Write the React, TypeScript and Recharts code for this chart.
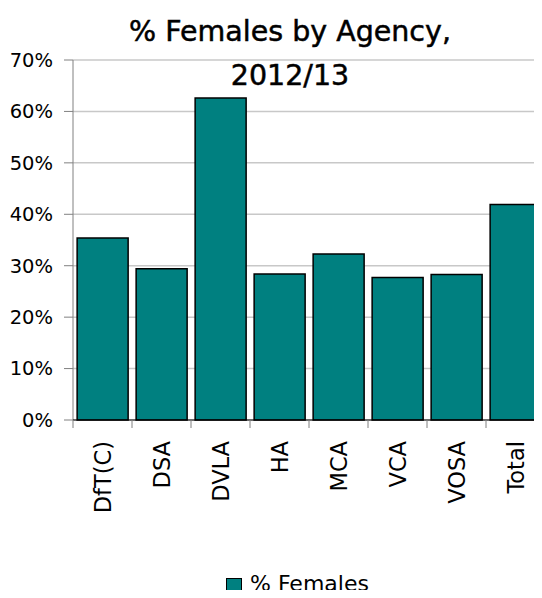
import { Bar, BarChart, CartesianGrid, XAxis, YAxis } from 'recharts'

const agencies = ['DfT(C)', 'DSA', 'DVLA', 'HA', 'MCA', 'VCA', 'VOSA', 'Total']
const femaleShare = [35.4, 29.4, 62.6, 28.4, 32.3, 27.7, 28.3, 41.9]
const yTicks = [0, 10, 20, 30, 40, 50, 60, 70]
const titleLines = ['% Females by Agency,', '2012/13']
const seriesName = '% Females'

const data = agencies.map((agency, i) => ({ agency, females: femaleShare[i] }))

const CHART_W = 560
const PLOT_LEFT = 73
const PLOT_RIGHT = 545
const HALF_BAND = (PLOT_RIGHT - PLOT_LEFT) / agencies.length / 2
const TEAL = '#008080'
const FONT = "'DejaVu Sans', sans-serif"

function AgencyTick({ x, y, payload }: { x?: number; y?: number; payload?: { value: string } }) {
  return (
    <g transform={`translate(${x},${y})`}>
      <line x1={-HALF_BAND} x2={-HALF_BAND} y1={0} y2={8} stroke="#808080" strokeWidth={1} />
      <text
        transform="rotate(-90)"
        x={-21}
        y={8}
        textAnchor="end"
        fill="#000"
        fontSize={22.5}
        fontFamily={FONT}
      >
        {payload?.value}
      </text>
    </g>
  )
}

export default function App() {
  return (
    <div
      style={{
        position: 'relative',
        width: 542,
        height: 598,
        margin: -8,
        overflow: 'hidden',
        background: '#fff',
        fontFamily: FONT,
      }}
    >
      <BarChart
        width={CHART_W}
        height={598}
        data={data}
        margin={{ top: 60, right: CHART_W - PLOT_RIGHT, bottom: 78, left: 0 }}
        barCategoryGap="7%"
      >
        <CartesianGrid vertical={false} stroke="#c8c8c8" strokeWidth={1.5} />
        <YAxis
          width={PLOT_LEFT}
          domain={[0, 70]}
          ticks={yTicks}
          interval={0}
          tickFormatter={(v: number) => `${v}%`}
          tick={{ fill: '#000', fontSize: 19.5, fontFamily: FONT }}
          tickSize={9}
          tickMargin={11}
          stroke="#808080"
          tickLine={{ stroke: '#808080' }}
        />
        <XAxis
          dataKey="agency"
          height={100}
          interval={0}
          tickSize={0}
          tickMargin={0}
          tickLine={false}
          stroke="#000"
          tick={<AgencyTick />}
        />
        <Bar
          dataKey="females"
          name={seriesName}
          fill={TEAL}
          stroke="#000"
          strokeWidth={1.5}
          isAnimationActive={false}
        />
      </BarChart>
      <div
        style={{
          position: 'absolute',
          left: 0,
          top: 10,
          width: 580,
          textAlign: 'center',
          fontSize: 28.5,
          lineHeight: '44px',
          color: '#000',
          WebkitTextStroke: '0.5px #000',
        }}
      >
        {titleLines.map((line) => (
          <div key={line}>{line}</div>
        ))}
      </div>
      <span
        style={{
          position: 'absolute',
          left: 226,
          top: 578,
          width: 14,
          height: 14,
          background: TEAL,
          border: '1.5px solid #000',
        }}
      />
      <div
        style={{
          position: 'absolute',
          left: 250,
          top: 572,
          fontSize: 22,
          lineHeight: '24px',
          color: '#000',
          whiteSpace: 'nowrap',
        }}
      >
        {seriesName}
      </div>
    </div>
  )
}
